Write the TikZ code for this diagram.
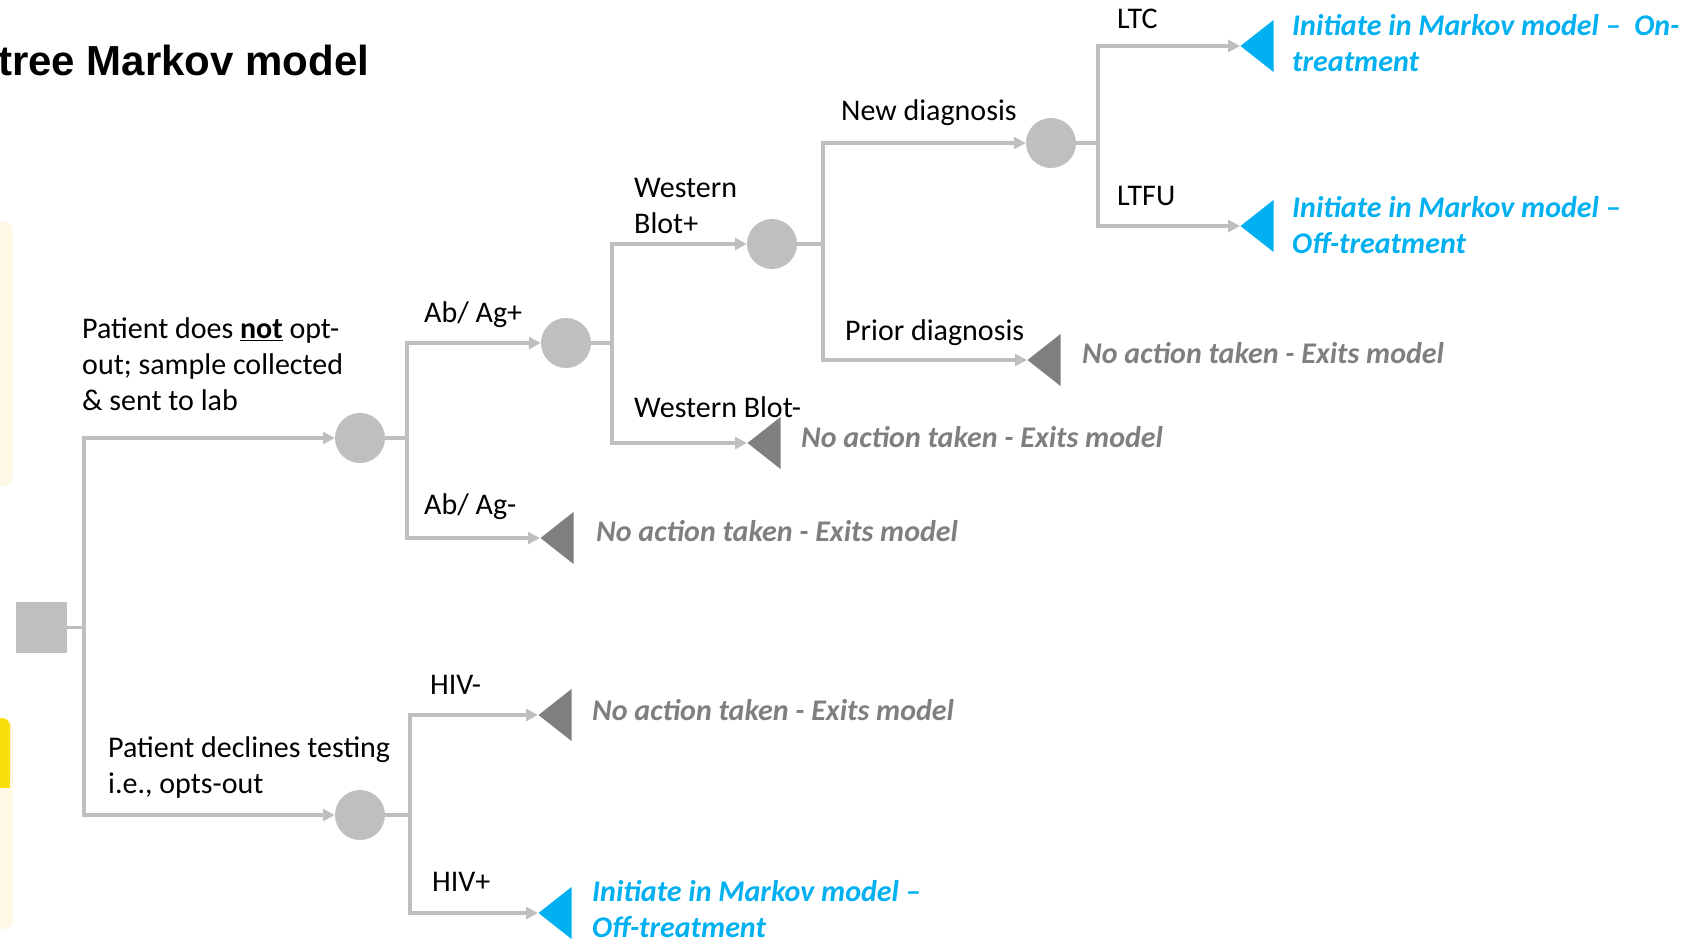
\documentclass[tikz,border=0pt]{standalone}
\usepackage{fontspec}
\setmainfont{Carlito}
\newfontfamily\titlefont{Liberation Sans}
\usetikzlibrary{shapes.geometric,arrows.meta}
\definecolor{lgray}{RGB}{191,191,191}
\definecolor{dgray}{RGB}{127,127,127}
\definecolor{cyanb}{RGB}{0,176,240}
\definecolor{cream}{RGB}{255,248,230}
\definecolor{yel}{RGB}{250,224,10}
\begin{document}
\begin{tikzpicture}[x=1pt,y=-1pt,
  conn/.style={draw=lgray,line width=3.5pt},
  arr/.style={conn,-{Triangle[length=12pt,width=12pt]}},
  chance/.style={circle,fill=lgray,minimum size=50pt,inner sep=0pt},
  decision/.style={rectangle,fill=lgray,minimum size=51pt,inner sep=0pt},
  endbase/.style={isosceles triangle,shape border rotate=180,isosceles triangle stretches=true,minimum width=52pt,minimum height=33pt,inner sep=0pt,anchor=apex},
  exitT/.style={endbase,fill=dgray},
  markT/.style={endbase,fill=cyanb},
  lbl/.style={anchor=west,inner sep=0pt,font=\fontsize{30}{36}\selectfont,align=left},
  res/.style={lbl,font=\fontsize{30}{36}\selectfont\bfseries\itshape},
  resgray/.style={res,text=dgray},
  resblue/.style={res,text=cyanb}
]
\useasboundingbox (0,0) rectangle (1693,943);
% side decorations
\fill[cream,rounded corners=10pt] (-20,221) rectangle (13,486);
\fill[cream,rounded corners=10pt] (-20,718) rectangle (13,929);
\fill[yel,rounded corners=8pt] (-20,718) rectangle (10,788);
\fill[yel] (-20,770) rectangle (10,788);
% title
\node[anchor=west,inner sep=0pt,font=\titlefont\bfseries\fontsize{42}{50}\selectfont] (title) at (-2,60) {tree Markov model};

% nodes
\node[decision] (sq) at (41.5,627.5) {};
\node[chance] (c1) at (360,438) {};
\node[chance] (c2) at (566,343) {};
\node[chance] (c3) at (772,244) {};
\node[chance] (c4) at (1051,143) {};
\node[chance] (c5) at (360,815) {};

\node[exitT] (tab) at (540,538) {};
\node[exitT] (twb) at (747,443) {};
\node[exitT] (tpr) at (1027,360) {};
\node[markT] (tltc) at (1240,46) {};
\node[markT] (tltfu) at (1240,226) {};
\node[exitT] (thn) at (538,715) {};
\node[markT] (thp) at (538,913) {};

\coordinate (j0) at (84,627.5);
\coordinate (j1) at (407,438);
\coordinate (j2) at (612,343);
\coordinate (j3) at (823,244);
\coordinate (j4) at (1098,143);
\coordinate (j5) at (410,815);

% connectors
\draw[conn] (sq.east) -- (j0);
\draw[arr] (j0) |- (c1.west);
\draw[arr] (j0) |- (c5.west);
\draw[conn] (c1.east) -- (j1);
\draw[arr] (j1) |- (c2.west);
\draw[arr] (j1) |- (tab.apex);
\draw[conn] (c2.east) -- (j2);
\draw[arr] (j2) |- (c3.west);
\draw[arr] (j2) |- (twb.apex);
\draw[conn] (c3.east) -- (j3);
\draw[arr] (j3) |- (c4.west);
\draw[arr] (j3) |- (tpr.apex);
\draw[conn] (c4.east) -- (j4);
\draw[arr] (j4) |- (tltc.apex);
\draw[arr] (j4) |- (tltfu.apex);
\draw[conn] (c5.east) -- (j5);
\draw[arr] (j5) |- (thn.apex);
\draw[arr] (j5) |- (thp.apex);

% branch labels
\node[lbl] (l1) at (82,364) {Patient does \underline{\textbf{not}} opt-\\out; sample collected\\\& sent to lab};
\node[lbl] (l2) at (424,315) {Ab/ Ag+};
\node[lbl] (l3) at (424,507) {Ab/ Ag-};
\node[lbl] (l4) at (634,206) {Western\\Blot+};
\node[lbl] (l5) at (634,407) {Western Blot-};
\node[lbl] (l6) at (841,113) {New diagnosis};
\node[lbl] (l7) at (845,333) {Prior diagnosis};
\node[lbl] (l8) at (1117,19) {LTC};
\node[lbl] (l9) at (1117,196) {LTFU};
\node[lbl] (l10) at (108,767) {Patient declines testing\\i.e., opts-out};
\node[lbl] (l11) at (430,685) {HIV-};
\node[lbl] (l12) at (432,882) {HIV+};

% outcome labels
\node[resgray] (r1) at (596,531) {No action taken - Exits model};
\node[resgray] (r2) at (801,437) {No action taken - Exits model};
\node[resgray] (r3) at (1082,353) {No action taken - Exits model};
\node[resblue] (r4) at (1292,43) {Initiate in Markov model --\ \ On-\\treatment};
\node[resblue] (r5) at (1292,225) {Initiate in Markov model --\\Off-treatment};
\node[resgray] (r6) at (592,710) {No action taken - Exits model};
\node[resblue] (r7) at (592,909) {Initiate in Markov model --\\Off-treatment};
\end{tikzpicture}
\end{document}
